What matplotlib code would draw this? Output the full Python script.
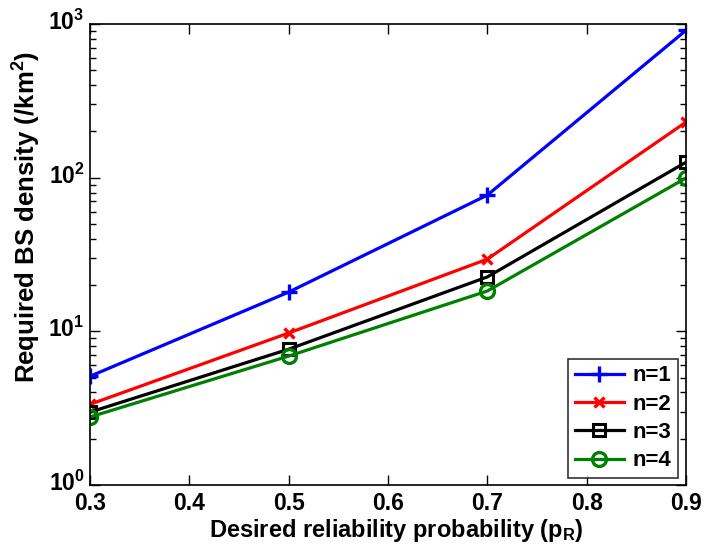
import math
import matplotlib
matplotlib.use("Agg")
import matplotlib.pyplot as plt
import matplotlib.transforms as mtransforms
from matplotlib.ticker import FixedLocator, FuncFormatter, LogLocator, NullFormatter

plt.rcParams['font.family'] = ['Liberation Sans', 'DejaVu Sans']
plt.rcParams['font.weight'] = 'bold'
plt.rcParams['mathtext.fontset'] = 'custom'
plt.rcParams['mathtext.rm'] = 'Liberation Sans:bold'
plt.rcParams['mathtext.bf'] = 'Liberation Sans:bold'
plt.rcParams['mathtext.it'] = 'Liberation Sans:bold'

x = [0.3, 0.5, 0.7, 0.9]
n1 = [5.1, 18.0, 77.0, 910.0]
n2 = [3.35, 9.75, 29.5, 230.0]
n3 = [2.98, 7.65, 22.6, 126.0]
n4 = [2.77, 6.9, 18.3, 99.5]
labels = ['n=1', 'n=2', 'n=3', 'n=4']
xticks = [0.3, 0.4, 0.5, 0.6, 0.7, 0.8, 0.9]

W, H = 704, 546
fig = plt.figure(figsize=(W / 100, H / 100), dpi=100)
L, R, T, B = 90, 686, 24, 485
ax = fig.add_axes([L / W, 1 - B / H, (R - L) / W, (B - T) / H])

ax.plot(x, n1, color='#0000ff', marker='+', ms=11, mew=2.4, lw=2.3, label=labels[0])
ax.plot(x, n2, color='#ff0000', marker='x', ms=6.5, mew=2.4, lw=2.3, label=labels[1])
ax.plot(x, n3, color='black', marker='s', ms=8.5, mew=2.2, mfc='none', lw=2.3, label=labels[2])
ax.plot(x, n4, color='#008000', marker='o', ms=10, mew=2.4, mfc='none', lw=2.3, label=labels[3])

ax.set_yscale('log')
ax.set_xlim(0.3, 0.9)
ax.set_ylim(1, 1000)
ax.xaxis.set_major_locator(FixedLocator(xticks))
ax.xaxis.set_major_formatter(FuncFormatter(lambda v, p: f'{v:.1f}'))
ax.yaxis.set_major_locator(FixedLocator([1, 10, 100, 1000]))
ax.yaxis.set_major_formatter(FuncFormatter(lambda v, p: r'$\mathbf{10^{%d}}$' % round(math.log10(v))))
ax.yaxis.set_minor_locator(LogLocator(base=10, subs=range(2, 10), numticks=20))
ax.yaxis.set_minor_formatter(NullFormatter())

ax.tick_params(which='both', direction='in', top=True, right=True, labelsize=16.5)
ax.tick_params(axis='x', pad=5)
ax.tick_params(axis='y', pad=4)
ax.tick_params(which='major', length=7, width=1)
ax.tick_params(which='minor', length=4, width=1)
for s in ax.spines.values():
    s.set_linewidth(1.2)

offset = mtransforms.ScaledTranslation(0, 3 / 72, fig.dpi_scale_trans)
for t in ax.yaxis.get_major_ticks():
    t.label1.set_transform(t.label1.get_transform() + offset)
    t.label1.set_fontweight('bold')
for t in ax.xaxis.get_major_ticks():
    t.label1.set_fontweight('bold')

ax.set_xlabel(r'Desired reliability probability (p$_\mathbf{R}$)', fontsize=17, fontweight='bold', va='center')
ax.xaxis.set_label_coords((396 - L) / (R - L), (B - 531) / (B - T))
ax.set_ylabel(r'Required BS density (/km$^\mathbf{2}$)', fontsize=18.5, fontweight='bold', va='center')
ax.yaxis.set_label_coords((27 - L) / (R - L), (B - 217) / (B - T))

leg = ax.legend(loc='lower right', fontsize=16, frameon=True, fancybox=False, edgecolor='black',
                handlelength=2.2, borderpad=0.3, labelspacing=0.33, handletextpad=0.4,
                borderaxespad=0, bbox_to_anchor=((678 - L) / (R - L), (B - 478) / (B - T)))
leg.get_frame().set_linewidth(1.2)
for t in leg.get_texts():
    t.set_fontweight('bold')

fig.savefig('out.png', dpi=100)
